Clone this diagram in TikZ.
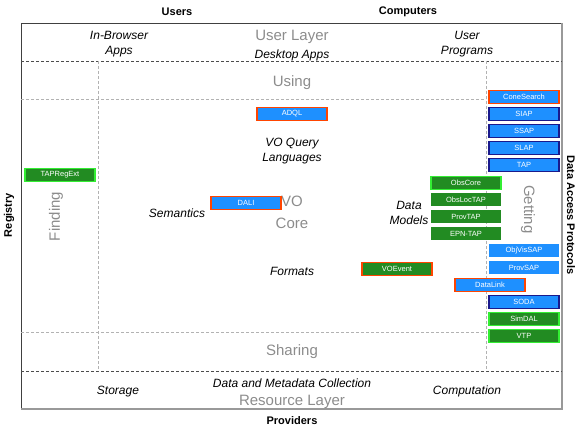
\documentclass[tikz,border=0pt]{standalone}
\usepackage{fontspec}
\setmainfont{Liberation Sans}
\usepackage{xcolor}
\usetikzlibrary{positioning}

\definecolor{voblue}{HTML}{1E90FF}
\definecolor{vogreen}{HTML}{228B22}
\definecolor{recred}{HTML}{FF4500}
\definecolor{wdnavy}{HTML}{1A1A8C}
\definecolor{draftlime}{HTML}{33EE33}

\begin{document}
\begin{tikzpicture}[
    x=1pt, y=-1pt,
    node distance=4pt,
    std/.style={rectangle, minimum width=70pt, minimum height=13pt, inner sep=0pt, outer sep=0pt, text=white, font=\fontsize{7.5}{8}\selectfont},
    bluestd/.style={std, fill=voblue},
    greenstd/.style={std, fill=vogreen},
    rec/.style={draw=recred, line width=1.5pt},
    wd/.style={draw=wdnavy, line width=1.2pt},
    draft/.style={draw=draftlime, line width=1.2pt},
    layer/.style={text=black!45, font=\fontsize{15}{22}\selectfont, align=center, yshift=-1.5pt},
    area/.style={font=\itshape\fontsize{12}{15}\selectfont, align=center, yshift=-1.5pt},
    head/.style={font=\bfseries\fontsize{11}{13}\selectfont},
    sep/.style={dash pattern=on 3pt off 2pt, line width=0.7pt}
]
\useasboundingbox (0,0) rectangle (581,430);

% Frame
\draw[black!75, line width=0.8pt] (21,409) -- (21,23) -- (562,23);
\draw[black!40, line width=1.6pt] (562,23) -- (562,409) -- (21,409);

% Separators
\draw[sep, black!70] (21,61) -- (562,61);
\draw[sep, black!70] (21,371) -- (562,371);
\draw[sep, black!30] (21,99) -- (486,99);
\draw[sep, black!30] (21,332) -- (486,332);
\draw[sep, black!30] (98,61) -- (98,371);
\draw[sep, black!30] (486,61) -- (486,371);

% Outside labels
\node[head] (users) at (177,12) {Users};
\node[head] (computers) at (408,12) {Computers};
\node[head] (providers) at (292,421) {Providers};
\node[head, rotate=90] (registry) at (9,215) {Registry};
\node[head, rotate=-90] (dap) at (571,215) {Data Access Protocols};

% User layer
\node[layer] (userlayer) at (292,35) {User Layer};
\node[area] (desktop) at (292,54) {Desktop Apps};
\node[area] (browser) at (119,43) {In-Browser\\Apps};
\node[area] (programs) at (467,43) {User\\Programs};
\node[layer] (using) at (292,81) {Using};

% Middle
\node[layer, rotate=90] (finding) at (56,215) {Finding};
\node[layer, rotate=-90] (getting) at (528,208) {Getting};
\node[layer] (vocore) at (292,211) {VO\\Core};
\node[area] (querylang) at (292,150) {VO Query\\Languages};
\node[area] (semantics) at (177,212) {Semantics};
\node[area] (datamodels) at (409,211) {Data\\Models};
\node[area] (formats) at (292,270) {Formats};

% Resource layer
\node[layer] (sharing) at (292,350) {Sharing};
\node[area] (collection) at (292,382) {Data and Metadata Collection};
\node[layer] (reslayer) at (292,400) {Resource Layer};
\node[area] (storage) at (118,390) {Storage};
\node[area] (computation) at (467,390) {Computation};

% Standards
\node[greenstd, draft] (tapregext) at (60,175) {TAPRegExt};
\node[bluestd, rec] (adql) at (292,114) {ADQL};
\node[bluestd, rec] (dali) at (246,203) {DALI};
\node[greenstd, rec] (voevent) at (397,269) {VOEvent};

\node[bluestd, rec] (cone) at (524,97) {ConeSearch};
\node[bluestd, wd, below=of cone] (siap) {SIAP};
\node[bluestd, wd, below=of siap] (ssap) {SSAP};
\node[bluestd, wd, below=of ssap] (slap) {SLAP};
\node[bluestd, wd, below=of slap] (tap) {TAP};

\node[greenstd, draft] (obscore) at (466,183) {ObsCore};
\node[greenstd, below=of obscore] (obsloctap) {ObsLocTAP};
\node[greenstd, below=of obsloctap] (provtap) {ProvTAP};
\node[greenstd, below=of provtap] (epntap) {EPN-TAP};

\node[bluestd] (objvissap) at (524,251) {ObjVisSAP};
\node[bluestd, below=of objvissap] (provsap) {ProvSAP};
\node[bluestd, rec, below=of provsap, xshift=-34pt] (datalink) {DataLink};
\node[bluestd, wd, below=of datalink, xshift=34pt] (soda) {SODA};
\node[greenstd, draft, below=of soda] (simdal) {SimDAL};
\node[greenstd, draft, below=of simdal] (vtp) {VTP};

\end{tikzpicture}
\end{document}
